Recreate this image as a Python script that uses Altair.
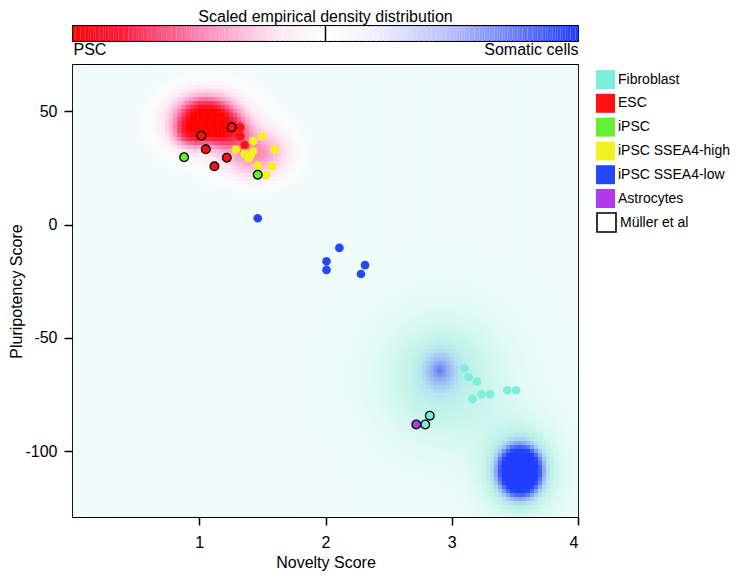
import numpy as np
import pandas as pd
import altair as alt

# ---------------- scatter data ----------------
fib_x = [3.10, 3.134, 3.20, 3.166, 3.235, 3.303, 3.44, 3.509, 2.826, 2.79]
fib_y = [-63.4, -67.3, -69.3, -76.9, -74.8, -74.8, -73.1, -73.1, -84.3, -88.2]
fib_m = [0, 0, 0, 0, 0, 0, 0, 0, 1, 1]

esc_x = [1.017, 1.052, 1.12, 1.218, 1.257, 1.325, 1.325, 1.36]
esc_y = [39.2, 33.2, 25.7, 29.5, 42.9, 42.9, 39.0, 35.1]
esc_m = [1, 1, 1, 1, 1, 0, 0, 0]

ipsc_x = [0.88, 1.463]
ipsc_y = [29.7, 22.0]
ipsc_m = [1, 1]

high_x = [1.426, 1.497, 1.289, 1.36, 1.426, 1.408, 1.392, 1.597, 1.463, 1.576, 1.531]
high_y = [36.8, 39.0, 33.2, 31.3, 32.4, 30.6, 29.4, 33.2, 26.0, 25.7, 21.8]
high_m = [0] * 11

low_x = [1.463, 2.11, 2.008, 2.008, 2.313, 2.281]
low_y = [2.8, -10.3, -16.2, -20.0, -17.9, -21.8]
low_m = [0] * 6

astro_x = [2.719]
astro_y = [-88.2]
astro_m = [1]

type_names = ["Fibroblast", "ESC", "iPSC", "iPSC SSEA4-high", "iPSC SSEA4-low", "Astrocytes"]
type_colors = ["#7deedb", "#ff1111", "#66ee33", "#f2f222", "#2448f4", "#b23aee"]
source_name = "Müller et al"

x_ticks = [1, 2, 3, 4]
y_ticks = [50, 0, -50, -100]

# ---------------- density field components ----------------
psc_cx = [1.05, 1.22, 0.93, 1.45, 1.1]
psc_cy = [47.0, 41.0, 40.0, 31.0, 44.0]
psc_sx = [0.15, 0.12, 0.09, 0.17, 0.3]
psc_sy = [6.0, 5.0, 4.0, 7.0, 12.0]
psc_w = [1.1, 0.5, 0.45, 0.4, 0.12]

som_cx = [3.54, 3.54, 2.93, 2.905, 2.905]
som_cy = [-108.7, -108.7, -68.0, -64.2, -64.2]
som_sx = [0.10, 0.22, 0.35, 0.10, 0.03]
som_sy = [6.5, 15.0, 20.0, 6.5, 2.0]
som_w = [1.8, 0.27, 0.24, 0.28, 0.07]

heat_stops = [-1.0, -0.8, -0.6, -0.45, -0.3, -0.18, -0.06, 0.0, 0.04, 0.15, 0.35, 0.6, 0.8, 1.0]
heat_colors = ["#1f3cff", "#2a48ff", "#5d7cf8", "#9ab8f6", "#b4e4f0", "#c4f4ea", "#e2faf5",
               "#effcfa", "#fafdfd", "#ffe6f2", "#ffa8d0", "#ff4878", "#ff1a30", "#ff0000"]

bar_stops = [-1, -0.8, -0.5, -0.2, 0, 0.2, 0.5, 0.8, 1]
bar_colors = ["#ff0000", "#ff1a3a", "#ff80b8", "#ffe4f0", "#ffffff", "#eef0ff", "#b4bcff",
              "#5a70ff", "#1f3cff"]

X_DOM = [0, 4]
Y_DOM = [-129.0, 70.4]

# ---------------- build tables ----------------
rows = []
for name, xs, ys, ms in [("Fibroblast", fib_x, fib_y, fib_m), ("ESC", esc_x, esc_y, esc_m),
                         ("iPSC", ipsc_x, ipsc_y, ipsc_m),
                         ("iPSC SSEA4-high", high_x, high_y, high_m),
                         ("iPSC SSEA4-low", low_x, low_y, low_m),
                         ("Astrocytes", astro_x, astro_y, astro_m)]:
    for a, b, m in zip(xs, ys, ms):
        rows.append({"x": a, "y": b, "type": name, "muller": m,
                     "src": source_name if m else "other"})
pts_df = pd.DataFrame(rows)

nx, ny = 126, 113
xe = np.linspace(X_DOM[0], X_DOM[1], nx + 1)
ye = np.linspace(Y_DOM[0], Y_DOM[1], ny + 1)
dx = xe[1] - xe[0]
dy = ye[1] - ye[0]
XC, YC = np.meshgrid((xe[:-1] + xe[1:]) / 2, (ye[:-1] + ye[1:]) / 2)
f = np.zeros_like(XC)
for cx, cy, sx, sy, w in zip(psc_cx, psc_cy, psc_sx, psc_sy, psc_w):
    f += w * np.exp(-((XC - cx) ** 2 / (2 * sx ** 2) + (YC - cy) ** 2 / (2 * sy ** 2)))
for cx, cy, sx, sy, w in zip(som_cx, som_cy, som_sx, som_sy, som_w):
    f -= w * np.exp(-((XC - cx) ** 2 / (2 * sx ** 2) + (YC - cy) ** 2 / (2 * sy ** 2)))
f = np.clip(f, -1, 1)
heat_df = pd.DataFrame({
    "x": np.round(XC.ravel() - dx / 2, 4),
    "y": np.round(YC.ravel() - dy / 2, 3),
    "v": np.round(f.ravel(), 3),
})

te = np.linspace(-1, 1, 201)
bar_df = pd.DataFrame({"t": te[:-1], "t2": te[1:], "c": (te[:-1] + te[1:]) / 2})

FONT = "Liberation Sans"

# ---------------- colour bar ----------------
bar = alt.Chart(bar_df).mark_rect().encode(
    x=alt.X("t:Q", scale=alt.Scale(domain=[-1, 1], nice=False, zero=False),
            axis=alt.Axis(values=[-1, 1], labelExpr="datum.value < 0 ? 'PSC' : 'Somatic cells'",
                          ticks=False, domain=False, grid=False, labelFlush=True,
                          labelFontSize=16, labelPadding=0, title=None)),
    x2="t2:Q",
    color=alt.Color("c:Q", scale=alt.Scale(domain=bar_stops, range=bar_colors,
                                           interpolate="rgb"), legend=None),
)
mid = alt.Chart(pd.DataFrame({"t": [0]})).mark_rule(color="black", strokeWidth=1.5).encode(
    x="t:Q")
bar_chart = alt.layer(bar, mid).properties(
    width=505, height=15,
    title=alt.TitleParams("Scaled empirical density distribution", fontSize=16,
                          fontWeight="normal", font=FONT, offset=0, color="black"),
)

# ---------------- main panel ----------------
xenc = alt.X("x:Q", scale=alt.Scale(domain=X_DOM, nice=False, zero=False),
             axis=alt.Axis(values=x_ticks, labelExpr="'' + datum.value", tickSize=8,
                           tickWidth=1.5, labelPadding=9, labelFontSize=16,
                           title="Novelty Score", titleFontSize=16, titlePadding=4,
                           domain=False, grid=False))
yenc = alt.Y("y:Q", scale=alt.Scale(domain=Y_DOM, nice=False, zero=False),
             axis=alt.Axis(values=y_ticks, labelExpr="'' + datum.value", tickSize=9,
                           tickWidth=1.5, labelPadding=7, labelFontSize=16,
                           title="Pluripotency Score", titleFontSize=16, titlePadding=0,
                           domain=False, grid=False))

heat = alt.Chart(heat_df).mark_rect(clip=True).transform_calculate(
    x2=f"datum.x + {dx * 1.12:.5f}", y2=f"datum.y + {dy * 1.12:.5f}"
).encode(
    x=xenc, x2="x2:Q", y=yenc, y2="y2:Q",
    color=alt.Color("v:Q", scale=alt.Scale(domain=heat_stops, range=heat_colors,
                                           interpolate="rgb", clamp=True), legend=None),
)

fill_enc = alt.Fill(
    "type:N",
    scale=alt.Scale(domain=type_names, range=type_colors),
    legend=alt.Legend(
        title=None, orient="none", legendX=523, legendY=5, symbolType="square",
        symbolSize=361, labelFontSize=14, labelFont=FONT, labelColor="black",
        rowPadding=4.8, labelOffset=3, symbolOpacity=1, symbolStrokeWidth=0,
    ),
)
stroke_enc = alt.Stroke(
    "src:N",
    scale=alt.Scale(domain=[source_name], range=["black"]),
    legend=alt.Legend(
        title=None, orient="none", legendX=523, legendY=147, symbolType="square",
        symbolSize=361, labelFontSize=14, labelFont=FONT, labelColor="black",
        labelOffset=3, symbolOpacity=1, symbolFillColor="white", symbolStrokeWidth=1.6,
    ),
)

plain = alt.Chart(pts_df).transform_filter("datum.muller == 0").mark_circle(
    size=75, opacity=1).encode(x="x:Q", y="y:Q", fill=fill_enc)
muller = alt.Chart(pts_df).transform_filter("datum.muller == 1").mark_circle(
    size=75, opacity=1, strokeWidth=1.3).encode(x="x:Q", y="y:Q", fill=fill_enc,
                                                 stroke=stroke_enc)

main = alt.layer(heat, plain, muller).properties(width=505, height=452)

chart = alt.vconcat(bar_chart, main, spacing=6).resolve_scale(
    color="independent", fill="independent", stroke="independent"
).resolve_legend(
    fill="independent", stroke="independent"
).properties(
    padding={"left": 0, "top": 0, "right": 0, "bottom": 0}
).configure(font=FONT).configure_view(
    stroke="black", strokeWidth=1.8
).configure_axis(
    labelColor="black", titleColor="black", tickColor="black",
    titleFontWeight="normal", labelFont=FONT, titleFont=FONT
)

chart.save("out.html", embed_options={"renderer": "svg", "actions": False})
